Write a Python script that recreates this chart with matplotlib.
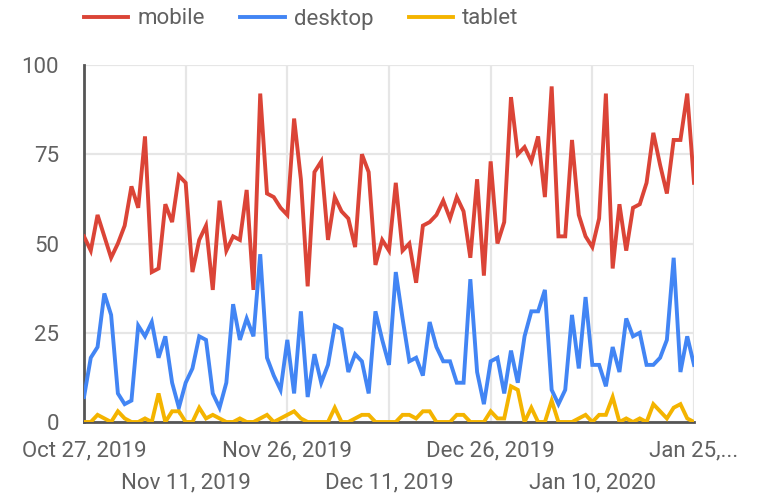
import numpy as np
import pandas as pd
import matplotlib
matplotlib.use('Agg')
import matplotlib.pyplot as plt
import matplotlib.dates as mdates

plt.rcParams['font.family'] = ['Roboto', 'DejaVu Sans']

# daily values, Oct 27 2019 -> Jan 25 2020
dates = pd.date_range('2019-10-27', '2020-01-25', freq='D')

mobile = [52, 48, 58, 52, 46, 50, 55, 66, 60, 80, 42, 43, 61, 56, 69, 67,
          42, 51, 55, 37, 62, 48, 52, 51, 65, 37, 92, 64, 63, 60, 58,
          85, 68, 38, 70, 73, 51, 63, 59, 57, 49, 75, 70, 44, 51, 48,
          67, 48, 50, 39, 55, 56, 58, 62, 57, 63, 59, 46, 68, 41, 73,
          50, 56, 91, 75, 77, 73, 80, 63, 94, 52, 52, 79, 58, 52, 49,
          57, 92, 43, 61, 48, 60, 61, 67, 81, 72, 64, 79, 79, 92, 67]
desktop = [7, 18, 21, 36, 30, 8, 5, 6, 27, 24, 28, 18, 24, 11, 4, 11,
           15, 24, 23, 8, 4, 11, 33, 23, 29, 24, 47, 18, 13, 9, 23,
           8, 31, 7, 19, 11, 16, 27, 26, 14, 19, 17, 8, 31, 23, 16,
           42, 29, 17, 18, 13, 28, 21, 17, 17, 11, 11, 40, 14, 5, 17,
           18, 8, 20, 11, 24, 31, 31, 37, 9, 5, 9, 30, 15, 35, 16,
           16, 10, 21, 14, 29, 24, 25, 16, 16, 18, 23, 46, 14, 24, 16]
tablet = [0, 0, 2, 1, 0, 3, 1, 0, 0, 1, 0, 8, 0, 3, 3, 0,
          0, 4, 1, 2, 1, 0, 0, 1, 0, 0, 1, 2, 0, 1, 2,
          3, 1, 0, 0, 0, 0, 4, 0, 0, 1, 2, 2, 0, 0, 0,
          0, 2, 2, 1, 3, 3, 0, 0, 0, 2, 2, 0, 0, 0, 3,
          1, 1, 10, 9, 0, 4, 0, 0, 6, 0, 0, 0, 1, 2, 0,
          2, 2, 7, 0, 1, 0, 1, 0, 5, 3, 1, 4, 5, 1, 0]

row1_ticks = pd.to_datetime(['2019-10-27', '2019-11-26', '2019-12-26', '2020-01-25'])
row1_labels = ['Oct 27, 2019', 'Nov 26, 2019', 'Dec 26, 2019', 'Jan 25,...']
row2_ticks = pd.to_datetime(['2019-11-11', '2019-12-11', '2020-01-10'])
row2_labels = ['Nov 11, 2019', 'Dec 11, 2019', 'Jan 10, 2020']
y_ticks = [0, 25, 50, 75, 100]

txt = '#616161'
fs = 16

fig = plt.figure(figsize=(7.59, 4.95), dpi=100)
ax = fig.add_axes([84/759, 1 - 422/495, 610/759, 357/495])

ax.plot(dates, mobile, color='#DB4437', lw=2.8, label='mobile', solid_joinstyle='miter')
ax.plot(dates, desktop, color='#4285F4', lw=2.8, label='desktop', solid_joinstyle='miter')
ax.plot(dates, tablet, color='#F4B400', lw=2.8, label='tablet', solid_joinstyle='miter')

ax.set_xlim(dates[0], dates[-1])
ax.set_ylim(0, 100)

ax.set_xticks(row1_ticks)
ax.set_xticklabels(row1_labels)
ax.set_xticks(row2_ticks, minor=True)
ax.set_xticklabels(row2_labels, minor=True)
ax.tick_params(axis='x', which='major', length=0, pad=13, labelsize=fs, labelcolor=txt)
ax.tick_params(axis='x', which='minor', length=0, pad=36, labelsize=fs, labelcolor=txt)
ax.set_yticks(y_ticks)
ax.tick_params(axis='y', length=0, pad=18, labelsize=fs, labelcolor=txt)

ax.grid(True, which='both', color='#e6e6e6', lw=1.6)
ax.set_axisbelow(True)
for s in ['top', 'right']:
    ax.spines[s].set_visible(False)
for s in ['left', 'bottom']:
    ax.spines[s].set_color('#555555')
    ax.spines[s].set_linewidth(2)
    ax.spines[s].set_zorder(1)

fig.legend(loc='center left', bbox_to_anchor=(84/759, 1 - 19/495), ncol=3,
           frameon=False, fontsize=fs, labelcolor=txt, handlelength=2.0,
           handletextpad=0.4, columnspacing=1.6, borderaxespad=0, borderpad=0)

fig.savefig('out.png', dpi=100)
